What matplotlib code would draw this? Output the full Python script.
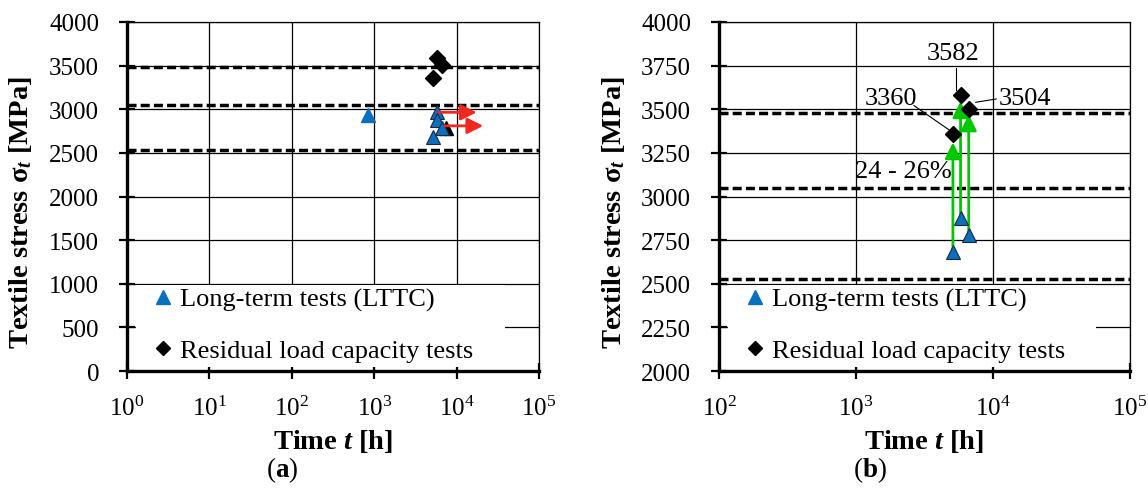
import numpy as np
import matplotlib
matplotlib.use("Agg")
import matplotlib.pyplot as plt
from matplotlib.patches import Rectangle
from matplotlib.lines import Line2D
from matplotlib.ticker import FixedLocator, LogFormatterMathtext, NullLocator

plt.rcParams["font.family"] = ["Liberation Serif", "DejaVu Serif"]
plt.rcParams["mathtext.fontset"] = "custom"
plt.rcParams["mathtext.rm"] = "Liberation Serif"
plt.rcParams["mathtext.it"] = "Liberation Serif:italic:bold"
plt.rcParams["mathtext.bf"] = "Liberation Serif:bold"

# specimens with long-term test and residual load capacity test (both panels)
spec_time = [5100, 5800, 6650]
spec_lttc = [2680, 2880, 2780]
spec_residual = [3360, 3582, 3504]
green_tip = [3310, 3545, 3470]
residual_labels = ["3360", "3582", "3504"]

# extra long-term tests only shown in panel (a)
extra_time = [830, 5800]
extra_lttc = [2940, 2965]
black_time = [7400]
black_lttc = [2790]

# run-outs (red arrows) in panel (a)
runout_start = [6000, 7200]
runout_end = [17500, 21000]
runout_stress = [2965, 2810]

# dashed reference levels
levels = [3480, 3050, 2530]

blue = "#0A70BE"
green = "#00C800"
red = "#F0281E"
edge = "#1B2640"

fig = plt.figure(figsize=(11.48, 4.89), dpi=100)
ax_a = fig.add_axes([0.1106, 0.239, 0.359, 0.714])
ax_b = fig.add_axes([0.6263, 0.239, 0.358, 0.714])


def style_axes(ax, xmin, ymin, ymax, ystep):
    ax.set_xscale("log")
    ax.set_xlim(xmin, 1e5)
    ax.set_ylim(ymin, ymax)
    ax.set_yticks(np.arange(ymin, ymax + 1, ystep))
    ax.xaxis.set_major_locator(FixedLocator([10.0 ** k for k in range(int(np.log10(xmin)), 6)]))
    ax.xaxis.set_major_formatter(LogFormatterMathtext())
    ax.xaxis.set_minor_locator(NullLocator())
    ax.grid(True, which="major", color="k", lw=0.9, zorder=0.5)
    ax.set_axisbelow(True)
    for s in ["top", "right"]:
        ax.spines[s].set_linewidth(0.9)
    for s in ["left", "bottom"]:
        ax.spines[s].set_linewidth(2.4)
    ax.tick_params(axis="both", direction="inout", length=12, width=1.6, labelsize=18)
    ax.tick_params(axis="y", pad=14)
    ax.tick_params(axis="x", pad=12)
    for lev in levels:
        ax.axhline(lev, color="k", lw=2.5, dashes=(2.6, 1.2), zorder=1.5)
    # white box behind the legend hides the grid
    ax.add_patch(Rectangle((0.022, 0.011), 0.895, 0.235, transform=ax.transAxes,
                           facecolor="white", edgecolor="none", zorder=2))
    handles = [Line2D([], [], ls="none", marker="^", color=blue, mec=blue, ms=10),
               Line2D([], [], ls="none", marker="D", color="k", ms=7)]
    ax.legend(handles, ["Long-term tests (LTTC)", "Residual load capacity tests"],
              loc="upper left", bbox_to_anchor=(0.068, 0.24), frameon=False,
              fontsize=19, handlelength=0.6, handletextpad=0.35, labelspacing=1.05,
              borderaxespad=0, borderpad=0)
    ax.set_ylabel(r"Textile stress σ$_{\mathit{t}}$ [MPa]", fontsize=20.5, fontweight="bold")
    ax.yaxis.set_label_coords(-0.225, 0.458)
    ax.set_xlabel(r"Time $\mathit{t}$ [h]", fontsize=20.5, fontweight="bold")
    ax.xaxis.set_label_coords(0.5, -0.16)


style_axes(ax_a, 1, 0, 4000, 500)
style_axes(ax_b, 100, 2000, 4000, 250)

# panel (a)
ax_a.plot(black_time, black_lttc, ls="none", marker="^", color="k", ms=10, zorder=4)
ax_a.plot(extra_time[:1], extra_lttc[:1], ls="none", marker="^", color=blue, mec=blue, ms=10, zorder=5)
ax_a.plot(extra_time[1:], extra_lttc[1:], ls="none", marker="^", color=blue, mec=edge, mew=0.8, ms=10, zorder=5)
ax_a.plot(spec_time, spec_lttc, ls="none", marker="^", color=blue, mec=edge, mew=0.8, ms=10, zorder=5)
ax_a.plot(spec_time, spec_residual, ls="none", marker="D", color="k", ms=8, zorder=5)
for t0, t1, s in zip(runout_start, runout_end, runout_stress):
    ax_a.annotate("", xy=(t1, s), xytext=(t0, s),
                  arrowprops=dict(arrowstyle="-|>", color=red, lw=2, mutation_scale=24,
                                  shrinkA=0, shrinkB=0), zorder=6)

# panel (b)
for t, s0, s1 in zip(spec_time, spec_lttc, green_tip):
    ax_b.annotate("", xy=(t, s1), xytext=(t, s0),
                  arrowprops=dict(arrowstyle="-|>", color=green, lw=2, mutation_scale=24,
                                  shrinkA=0, shrinkB=0), zorder=4)
ax_b.plot(spec_time, spec_lttc, ls="none", marker="^", color=blue, mec=edge, mew=0.8, ms=10, zorder=5)
ax_b.plot(spec_time, spec_residual, ls="none", marker="D", color="k", ms=8, zorder=5)

# value labels with leader lines
ax_b.plot([2650, 4780], [3521, 3382], color="k", lw=0.8, zorder=4)
ax_b.plot([5370, 5370], [3736, 3609], color="k", lw=0.8, zorder=4)
ax_b.plot([7480, 10560], [3540, 3559], color="k", lw=0.8, zorder=4)
ax_b.text(1800, 3563, residual_labels[0], fontsize=19, ha="center", va="center", zorder=6)
ax_b.text(5100, 3822, residual_labels[1], fontsize=19, ha="center", va="center", zorder=6)
ax_b.text(17100, 3563, residual_labels[2], fontsize=19, ha="center", va="center", zorder=6)
ax_b.text(2200, 3147, "24 - 26%", fontsize=19, ha="center", va="center", zorder=6)

fig.text(0.2456, 1 - 470 / 489, r"($\mathbf{a}$)", fontsize=19.5, ha="center", va="center")
fig.text(0.758, 1 - 470 / 489, r"($\mathbf{b}$)", fontsize=19.5, ha="center", va="center")

fig.savefig("out.png", dpi=100)
